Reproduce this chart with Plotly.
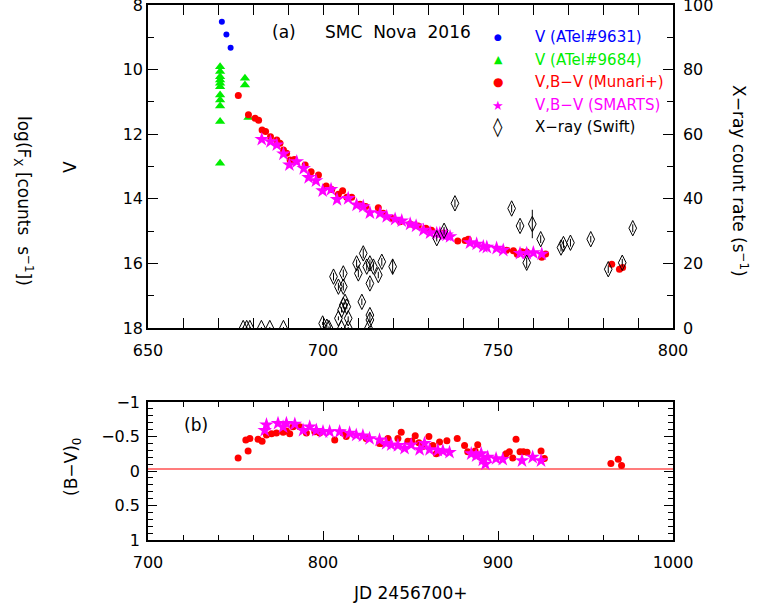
import plotly.graph_objects as go

# ---------------- light curve (panel a) ----------------
# V magnitudes from ATel #9631
jd_atel9631 = [671.1, 672.4, 673.6]
v_atel9631 = [8.52, 8.91, 9.32]

# V magnitudes from ATel #9684
jd_atel9684 = [670.6, 670.6, 670.6, 670.6, 670.6, 670.6, 670.6, 670.6, 670.6, 670.6, 670.6,
               677.7, 677.7, 678.7]
v_atel9684 = [9.91, 10.06, 10.22, 10.32, 10.42, 10.53, 10.79, 10.94, 11.13, 11.61, 12.90,
              10.27, 10.48, 11.48]

# V magnitudes, Munari et al.
jd_munari_v = [675.8, 678.7, 680.6, 681.6, 682.6, 683.6, 685.0, 686.8, 687.7, 688.7, 689.6,
               690.6, 691.8, 694.9, 696.6, 698.7, 700.9, 702.5, 704.4, 705.6, 706.8, 708.2,
               710.6, 712.2, 715.8, 717.2, 719.6, 722.0, 724.9, 727.2, 729.4, 731.0, 734.4,
               738.5, 740.6, 741.5, 752.5, 754.4, 755.5, 756.8, 758.2, 762.5, 763.6,
               782.5, 784.7, 785.6]
v_munari = [10.80, 11.40, 11.51, 11.57, 11.87, 11.92, 12.08, 12.18, 12.28, 12.49, 12.59,
            12.80, 12.78, 12.95, 13.16, 13.26, 13.60, 13.71, 13.86, 13.75, 13.95, 13.95,
            14.17, 14.24, 14.28, 14.45, 14.60, 14.71, 14.78, 14.84, 14.91, 14.97, 15.07,
            15.31, 15.29, 15.25, 15.59, 15.61, 15.72, 15.64, 15.65, 15.81, 15.71,
            16.03, 16.18, 16.13]

# V magnitudes, SMARTS
jd_smarts_v = [682.5, 685.0, 686.8, 688.7, 690.4, 692.5, 694.5, 695.9, 698.0, 699.9, 702.3,
               704.0, 707.2, 709.6, 711.5, 713.4, 716.3, 718.2, 720.6, 722.5, 724.9, 726.6,
               728.7, 730.6, 732.5, 733.4, 734.4, 735.3, 736.3, 742.0, 743.9, 745.8, 746.8,
               749.6, 751.5, 756.3, 758.2, 760.1, 762.5]
v_smarts = [12.16, 12.23, 12.33, 12.61, 12.95, 12.85, 13.06, 13.34, 13.44, 13.75, 13.71,
            14.02, 13.99, 14.19, 14.24, 14.43, 14.45, 14.55, 14.63, 14.68, 14.78, 14.84,
            14.97, 15.05, 15.07, 15.07, 15.13, 15.12, 15.17, 15.36, 15.40, 15.48, 15.50,
            15.53, 15.59, 15.69, 15.69, 15.67, 15.71]

# Swift X-ray count rate (counts/s)
jd_xray = [677.2, 678.2, 679.1, 682.4, 684.8, 688.7,
           699.9, 701.1, 701.7, 704.4, 705.3, 705.8, 706.3, 706.8, 707.2, 705.3, 707.2,
           703.0, 705.8, 704.4, 705.8, 709.6, 711.5, 710.1, 712.5, 713.4, 714.4, 713.4,
           715.8, 716.8, 719.9, 711.1, 713.4, 713.4, 713.0,
           732.5, 734.6, 737.7, 753.9, 756.3, 759.8, 762.2, 758.2,
           768.0, 768.7, 770.7, 776.5, 781.5, 785.5, 788.5]
rate_xray = [0.0, 0.0, 0.0, 0.0, 0.0, 0.0,
             1.4, 0.4, 0.0, 3.0, 5.6, 7.1, 8.1, 6.6, 3.0, 0.0, 0.0,
             15.9, 16.9, 12.8, 12.8, 20.0, 23.1, 16.9, 19.0, 20.0, 19.0, 13.8,
             16.4, 20.5, 19.0, 8.1, 4.0, 2.5, 0.0,
             27.8, 30.1, 38.6, 37.0, 31.6, 32.2, 27.5, 20.2,
             24.9, 26.0, 26.4, 27.5, 18.2, 20.2, 30.9]
rate_err = [0.3, 0.3, 0.3, 0.3, 0.3, 0.3,
            0.5, 0.5, 0.5, 0.6, 0.8, 0.8, 0.8, 0.8, 0.6, 0.3, 0.3,
            1.2, 1.2, 1.2, 1.2, 1.2, 1.5, 1.2, 1.2, 1.2, 1.2, 1.2,
            1.0, 1.2, 2.4, 1.0, 0.8, 0.8, 0.3,
            1.0, 1.2, 1.2, 1.2, 1.2, 4.4, 1.2, 1.6,
            1.2, 1.2, 1.2, 1.0, 1.2, 1.2, 1.2]

# ---------------- colour evolution (panel b) ----------------
jd_munari_bv = [751.5, 757.2, 755.9, 758.2, 762.9, 765.2, 767.7, 770.6, 773.4, 777.2, 779.1,
                781.0, 782.9, 786.7, 790.5, 795.3, 798.1, 806.7, 811.4, 813.3, 824.7, 832.3,
                833.3, 837.1, 842.8, 844.7, 848.5, 850.8, 852.7, 854.8, 856.7, 860.5, 862.8,
                864.7, 866.6, 870.8, 876.7, 880.9, 882.7, 886.9, 888.4, 904.6, 906.5, 908.4,
                910.3, 912.6, 914.5, 916.6, 924.6, 926.5, 964.5, 968.7, 970.6]
bv_munari = [-0.19, -0.29, -0.45, -0.47, -0.46, -0.43, -0.52, -0.54, -0.55, -0.56, -0.58,
             -0.54, -0.64, -0.64, -0.55, -0.57, -0.55, -0.45, -0.55, -0.50, -0.47, -0.40,
             -0.40, -0.47, -0.47, -0.56, -0.43, -0.43, -0.51, -0.41, -0.35, -0.50, -0.37,
             -0.25, -0.42, -0.44, -0.47, -0.37, -0.28, -0.29, -0.38, -0.25, -0.28, -0.19,
             -0.46, -0.28, -0.28, -0.27, -0.29, -0.18, -0.11, -0.17, -0.08]

jd_smarts_bv = [766.7, 767.7, 774.3, 777.2, 779.1, 783.9, 788.6, 792.4, 796.2, 800.0, 803.8,
                809.5, 815.2, 819.0, 822.8, 826.6, 832.3, 836.1, 839.0, 842.8, 846.6, 850.4,
                855.2, 858.0, 860.9, 865.6, 868.5, 872.3, 884.7, 887.5, 890.4, 891.3, 892.8,
                894.1, 898.9, 902.7, 913.7, 919.8, 924.6]
bv_smarts = [-0.59, -0.67, -0.69, -0.64, -0.69, -0.68, -0.59, -0.64, -0.59, -0.57, -0.57,
             -0.57, -0.55, -0.52, -0.51, -0.47, -0.45, -0.40, -0.38, -0.37, -0.33, -0.38,
             -0.31, -0.40, -0.31, -0.30, -0.29, -0.27, -0.25, -0.22, -0.25, -0.16, -0.10,
             -0.20, -0.18, -0.17, -0.15, -0.20, -0.15]

# intrinsic colour of optically thin free-free emission
bv_intrinsic = -0.03

# legend entries: (glyph, glyph size, colour, label)
legend_items = [
    ("●", 9, "#0000ff", "V (ATel#9631)"),
    ("▲", 11, "#00ee00", "V (ATel#9684)"),
    ("●", 12, "#ff0000", "V,B−V (Munari+)"),
    ("★", 13, "#ff00ff", "V,B−V (SMARTS)"),
    ("◊", 19, "#000000", "X−ray (Swift)"),
]

FONT = "DejaVu Sans"
W, H = 767, 609


def px_x(p):
    return p / W


def px_y(p):
    return 1 - p / H


fig = go.Figure()

# panel (a)
fig.add_trace(go.Scatter(x=jd_atel9631, y=v_atel9631, mode="markers", xaxis="x", yaxis="y",
                         marker=dict(symbol="circle", size=6, color="#0000ff")))
fig.add_trace(go.Scatter(x=jd_atel9684, y=v_atel9684, mode="markers", xaxis="x", yaxis="y",
                         marker=dict(symbol="triangle-up", size=9, color="#00ee00")))
fig.add_trace(go.Scatter(x=jd_munari_v, y=v_munari, mode="markers", xaxis="x", yaxis="y",
                         marker=dict(symbol="circle", size=7, color="#ff0000")))
fig.add_trace(go.Scatter(x=jd_smarts_v, y=v_smarts, mode="markers", xaxis="x", yaxis="y",
                         marker=dict(symbol="star", size=11, color="#ff00ff")))
fig.add_trace(go.Scatter(x=jd_xray, y=rate_xray, mode="markers", xaxis="x", yaxis="y2",
                         error_y=dict(type="data", array=rate_err, color="black",
                                      thickness=1, width=0),
                         marker=dict(symbol="diamond-tall-open", size=11,
                                     color="black", line=dict(width=1, color="black"))))

# panel (b)
fig.add_trace(go.Scatter(x=[700, 1000], y=[bv_intrinsic, bv_intrinsic], mode="lines",
                         xaxis="x3", yaxis="y3", line=dict(color="#ff5050", width=1.5)))
fig.add_trace(go.Scatter(x=jd_munari_bv, y=bv_munari, mode="markers", xaxis="x3", yaxis="y3",
                         marker=dict(symbol="circle", size=7, color="#ff0000")))
fig.add_trace(go.Scatter(x=jd_smarts_bv, y=bv_smarts, mode="markers", xaxis="x3", yaxis="y3",
                         marker=dict(symbol="star", size=11, color="#ff00ff")))

axis_common = dict(showline=True, linecolor="black", linewidth=1.5, ticks="inside",
                   tickcolor="black", tickwidth=1.2, showgrid=False, zeroline=False,
                   automargin=False, ticklabeloverflow="allow",
                   tickfont=dict(family=FONT, size=16, color="black"))


def minor(dt, ln):
    return dict(dtick=dt, ticklen=ln, ticks="inside", tickcolor="black", tickwidth=1.2)


xdom = [px_x(148), px_x(673)]
fig.update_layout(
    width=W, height=H, margin=dict(l=0, r=0, t=0, b=0, autoexpand=False),
    paper_bgcolor="white", plot_bgcolor="white", showlegend=False,
    xaxis=dict(domain=xdom, anchor="y", range=[650, 800], dtick=50, ticklen=10,
               mirror="allticks", minor=minor(10, 6), ticklabelstandoff=7, **axis_common),
    yaxis=dict(domain=[px_y(328), px_y(5)], anchor="x", range=[18, 8], dtick=2, ticklen=10,
               minor=minor(1, 6), **axis_common),
    yaxis2=dict(overlaying="y", side="right", anchor="x", range=[0, 100], dtick=20,
                ticklen=10, minor=minor(10, 6), ticklabelstandoff=5, **axis_common),
    xaxis3=dict(domain=xdom, anchor="y3", range=[700, 1000], dtick=100, ticklen=9,
                mirror="allticks", minor=minor(20, 5), ticklabelstandoff=7, **axis_common),
    yaxis3=dict(domain=[px_y(540), px_y(402)], anchor="x3", range=[1, -1], dtick=0.5,
                ticklen=9, mirror="allticks", minor=minor(0.1, 5), ticklabelstandoff=3,
                **axis_common),
)

annotations = []


def label(text, x, y, size=17, angle=0, color="black", xanchor="center"):
    annotations.append(dict(text=text, x=px_x(x), y=px_y(y), xref="paper", yref="paper",
                            showarrow=False, textangle=angle, xanchor=xanchor,
                            yanchor="middle",
                            font=dict(family=FONT, size=size, color=color)))


label("(a)", 284, 32)
label("SMC\u00a0 Nova\u00a0 2016", 398, 32)
label("(b)", 196, 425)
label("V", 70, 167, angle=-90)
label("log(F<sub>X</sub> [counts\u00a0 s<sup>−1</sup>])", 23, 201, angle=90)
label("X−ray count rate (s<sup>−1</sup>)", 740, 181, angle=90)
label("(B−V)<sub>0</sub>", 73, 467, angle=-90)
label("JD 2456700+", 410, 593)

rows = [37, 60, 82, 105, 127]
for (glyph, gsize, color, text), ry in zip(legend_items, rows):
    label(glyph, 498, ry, size=gsize, color=color)
    label(text, 533, ry, size=15, color=color, xanchor="left")

fig.update_layout(annotations=annotations)

fig.write_html("out.html")
